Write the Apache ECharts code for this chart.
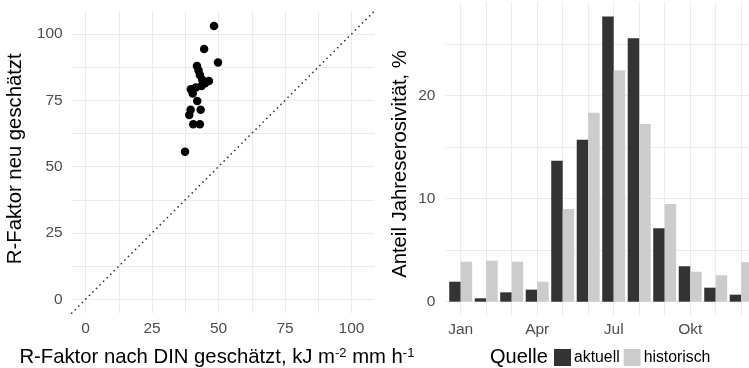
<!DOCTYPE html>
<html>
<head>
<meta charset="utf-8">
<script src="https://cdn.jsdelivr.net/npm/echarts@6/dist/echarts.min.js"></script>
<style>
  html, body { margin: 0; padding: 0; background: #fff; }
  #chart { width: 749px; height: 368px; }
</style>
</head>
<body>
<div id="chart"></div>
<script>
// Left panel: R factor, DIN estimate vs. new estimate (per station)
const rDin = [48.3, 44.6, 49.8, 41.9, 42.5, 43.0, 43.9, 46.4, 44.9, 43.6,
              41.5, 39.6, 40.3, 42.0, 39.5, 43.3, 39.0, 40.5, 43.0, 37.4];
const rNeu = [103.0, 94.3, 89.2, 87.9, 86.2, 84.5, 82.7, 82.3, 81.4, 80.4,
              79.8, 79.2, 77.6, 74.7, 71.4, 71.4, 69.5, 66.0, 66.0, 55.6];
const rTicks = [0, 25, 50, 75, 100];
const rGrid = [0, 12.5, 25, 37.5, 50, 62.5, 75, 87.5, 100];

// Right panel: monthly share of annual erosivity, %
const monthNames = ['Jan', 'Feb', 'Mär', 'Apr', 'Mai', 'Jun', 'Jul', 'Aug', 'Sep', 'Okt', 'Nov', 'Dez'];
const aktuell    = [1.94, 0.33, 0.91, 1.17, 13.69, 15.73, 27.70, 25.57, 7.13, 3.44, 1.36, 0.68];
const historisch = [3.88, 3.98, 3.88, 1.94, 9.00, 18.35, 22.47, 17.25, 9.49, 2.91, 2.56, 3.83];
const monthLabelPos = [1, 4, 7, 10];
const shareTicks = [0, 10, 20];
const shareGrid = [0, 5, 10, 15, 20, 25];

const FONT = '"Liberation Sans", Arial, Helvetica, sans-serif';
const TICK_COLOR = '#4D4D4D';
const GRID_COLOR = '#EBEBEB';

// shared limits of the scatter panel (0 .. max, plus 5 % padding)
const rMin = -5.2, rMax = 108.5;
const identity = [[rMin, rMin], [rMax, rMax]];

const scatterData = rDin.map((x, i) => [x, rNeu[i]]);
const months = monthNames.map((_, i) => i + 1);
const aktuellData = aktuell.map((v, i) => [months[i], v]);
const historischData = historisch.map((v, i) => [months[i], v]);

const tickLabel = { color: TICK_COLOR, fontSize: 15.5, fontFamily: FONT };
const axisTitle = { color: '#000', fontSize: 20.3, fontFamily: FONT };
const splitLine = { show: true, lineStyle: { color: GRID_COLOR, width: 1 } };

const chart = echarts.init(document.getElementById('chart'), null, { renderer: 'canvas' });

chart.setOption({
  animation: false,
  backgroundColor: '#fff',
  textStyle: { fontFamily: FONT },
  title: {
    text: 'Quelle',
    left: 490, top: 347, padding: 0,
    textStyle: { fontSize: 20, fontWeight: 'normal', color: '#000', fontFamily: FONT }
  },
  legend: {
    data: ['aktuell', 'historisch'],
    left: 554, top: 349, padding: 0,
    icon: 'rect', itemWidth: 17, itemHeight: 17, itemGap: 4,
    textStyle: { fontSize: 15.8, color: '#000', fontFamily: FONT, padding: [0, 0, 0, -2] }
  },
  grid: [
    { left: 71.7, top: 11.4, width: 302.4, height: 301.7, containLabel: false, outerBoundsMode: 'none' },
    { left: 445.4, top: 2, width: 311.1, height: 314, containLabel: false, outerBoundsMode: 'none' }
  ],
  xAxis: [
    {
      type: 'value', gridIndex: 0, min: rMin, max: rMax,
      name: 'R-Faktor nach DIN geschätzt, kJ m{sup|-2} mm h{sup|-1}',
      nameLocation: 'middle', nameGap: 34,
      nameTextStyle: Object.assign({}, axisTitle, {
        padding: [0, 12, 0, 0],
        rich: { sup: { fontSize: 13, color: '#000', fontFamily: FONT, verticalAlign: 'top', padding: [0, 0, 7, 0] } }
      }),
      axisLine: { show: false },
      axisTick: { show: false, customValues: rGrid },
      axisLabel: Object.assign({ customValues: rTicks, margin: 8 }, tickLabel),
      splitLine: splitLine
    },
    {
      type: 'value', gridIndex: 1, min: 0.4, max: 12.6,
      axisLine: { show: false },
      axisTick: { show: false, customValues: months },
      axisLabel: Object.assign({
        customValues: monthLabelPos, margin: 6,
        formatter: v => monthNames[Math.round(v) - 1]
      }, tickLabel),
      splitLine: splitLine
    }
  ],
  yAxis: [
    {
      type: 'value', gridIndex: 0, min: rMin, max: rMax,
      name: 'R-Faktor neu geschätzt',
      nameLocation: 'middle', nameGap: 46,
      nameTextStyle: Object.assign({}, axisTitle, { padding: [0, 0, 0, 7] }),
      axisLine: { show: false },
      axisTick: { show: false, customValues: rGrid },
      axisLabel: Object.assign({ customValues: rTicks, margin: 9 }, tickLabel),
      splitLine: splitLine
    },
    {
      type: 'value', gridIndex: 1, min: -1.39, max: 29.1,
      name: 'Anteil Jahreserosivität, %',
      nameLocation: 'middle', nameGap: 35,
      nameTextStyle: Object.assign({}, axisTitle, { padding: [0, 10, 0, 0] }),
      axisLine: { show: false },
      axisTick: { show: false, customValues: shareGrid },
      axisLabel: Object.assign({ customValues: shareTicks, margin: 10 }, tickLabel),
      splitLine: splitLine
    }
  ],
  series: [
    {
      name: '1:1', type: 'line', xAxisIndex: 0, yAxisIndex: 0,
      data: identity, symbol: 'none', silent: true,
      lineStyle: { color: '#333', width: 1.7, type: [0.01, 5], cap: 'round' },
      z: 1
    },
    {
      name: 'R', type: 'scatter', xAxisIndex: 0, yAxisIndex: 0,
      data: scatterData, symbolSize: 8.5,
      itemStyle: { color: '#000', opacity: 1 },
      z: 3
    },
    {
      name: 'aktuell', type: 'bar', xAxisIndex: 1, yAxisIndex: 1,
      data: aktuellData, barWidth: '45%', barGap: '0%',
      itemStyle: { color: '#333333' }
    },
    {
      name: 'historisch', type: 'bar', xAxisIndex: 1, yAxisIndex: 1,
      data: historischData, barWidth: '45%', barGap: '0%',
      itemStyle: { color: '#CCCCCC' }
    }
  ]
});
</script>
</body>
</html>
